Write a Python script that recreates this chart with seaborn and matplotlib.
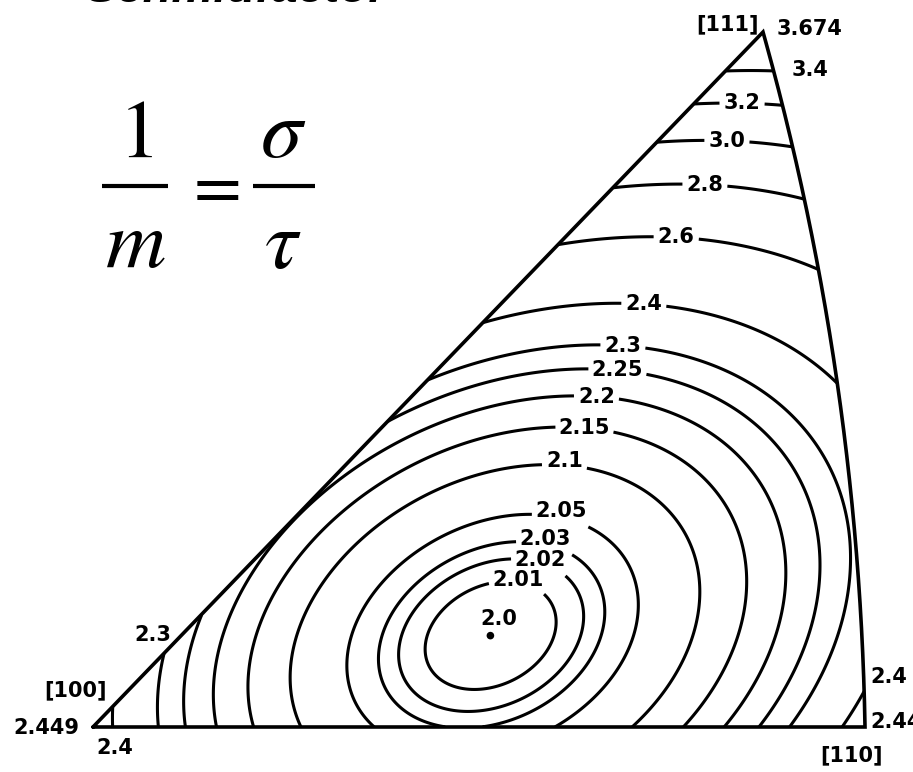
import numpy as np
import pandas as pd
import matplotlib
matplotlib.use("Agg")
import matplotlib.pyplot as plt
from matplotlib.path import Path
from matplotlib.patches import PathPatch
import seaborn as sns

# FCC {111}<110> slip systems: plane normals and slip directions
slip_normals = [(1, 1, 1), (1, 1, 1), (1, 1, 1),
                (-1, 1, 1), (-1, 1, 1), (-1, 1, 1),
                (1, -1, 1), (1, -1, 1), (1, -1, 1),
                (1, 1, -1), (1, 1, -1), (1, 1, -1)]
slip_directions = [(0, 1, -1), (1, 0, -1), (1, -1, 0),
                   (0, 1, -1), (1, 0, 1), (1, 1, 0),
                   (0, 1, 1), (1, 0, -1), (1, 1, 0),
                   (0, 1, 1), (1, 0, 1), (1, -1, 0)]

# iso-lines of 1/m drawn in the standard triangle
contour_levels = [2.01, 2.02, 2.03, 2.05, 2.1, 2.15, 2.2, 2.25, 2.3, 2.4,
                  2.6, 2.8, 3.0, 3.2, 3.4]
contour_labels = ["2.01", "2.02", "2.03", "2.05", "2.1", "2.15", "2.2", "2.25",
                  "2.3", "2.4", "2.6", "2.8", "3.0", "3.2", "3.4"]

# corner poles of the triangle and their 1/m values
corner_names = ["[100]", "[110]", "[111]"]
corner_vectors = [(1, 0, 0), (1, 1, 0), (1, 1, 1)]
corner_values = ["2.449", "2.449", "3.674"]
minimum_label = "2.0"


def to_px(X, Y):
    """Stereographic coordinates -> canvas pixels."""
    return 93 + 1863.8 * X - 33.3 * Y, 727 - 1898.7 * Y


def project(v):
    v = np.asarray(v, float)
    v = v / np.linalg.norm(v)
    return v[1] / (1 + v[0]), v[2] / (1 + v[0])


def inverse_schmid(X, Y):
    r2 = X ** 2 + Y ** 2
    t = np.stack([(1 - r2) / (1 + r2), 2 * X / (1 + r2), 2 * Y / (1 + r2)], axis=-1)
    n = np.array(slip_normals, float)
    n /= np.linalg.norm(n, axis=1, keepdims=True)
    d = np.array(slip_directions, float)
    d /= np.linalg.norm(d, axis=1, keepdims=True)
    m = np.abs(t @ n.T) * np.abs(t @ d.T)
    return 1.0 / m.max(axis=-1)


sns.set_theme(style="white")
plt.rcParams["mathtext.fontset"] = "stix"
plt.rcParams["text.color"] = "black"

fig = plt.figure(figsize=(9.13, 7.72), dpi=100)
ax = fig.add_axes([0, 0, 1, 1])
ax.set_xlim(0, 913)
ax.set_ylim(772, 0)
ax.axis("off")

# field on a grid in projection space
gx, gy = np.meshgrid(np.linspace(-0.03, 0.46, 800), np.linspace(-0.03, 0.40, 700))
field = inverse_schmid(gx, gy)
PX, PY = to_px(gx, gy)

# triangle outline: [100]-[110] line, [110]-[111] great circle, [111]-[100] line
c100, c110, c111 = [project(v) for v in corner_vectors]
phi_end = np.arctan2(c111[1], 1 + c111[0])
phi = np.linspace(0, phi_end, 200)
arc_x = -1 + np.sqrt(2) * np.cos(phi)
arc_y = np.sqrt(2) * np.sin(phi)
tri_x = np.concatenate([[c100[0]], arc_x, [c100[0]]])
tri_y = np.concatenate([[c100[1]], arc_y, [c100[1]]])
tpx, tpy = to_px(tri_x, tri_y)
clip = PathPatch(Path(np.column_stack([tpx, tpy])), transform=ax.transData,
                 facecolor="none", edgecolor="none")
ax.add_patch(clip)

cs = ax.contour(PX, PY, field, levels=contour_levels, colors="black",
                linewidths=2.2)

label_spots = [(517, 588), (540, 562), (546, 540), (562, 512), (564, 472),
               (584, 435), (596, 404), (617, 376), (623, 345), (644, 302),
               (676, 242), (705, 183), (727, 139), (742, 106)]
# small upward shift of the labels around the minimum
label_lift = [2, 2, 5, 7, 4, 0, 0, 0, 0, 0, 0, 0, 0, 0]
fmt = dict(zip(contour_levels, contour_labels))
texts = ax.clabel(cs, manual=label_spots, inline=True, inline_spacing=6,
                  fmt=fmt, fontsize=15)
for t, lift in zip(texts, label_lift):
    t.set_rotation(0)
    t.set_fontweight("bold")
    t.set_color("black")
    x, y = t.get_position()
    t.set_position((x, y - lift))
cs.set_clip_path(clip)

ax.plot(tpx, tpy, color="black", lw=2.6, solid_joinstyle="miter")

# position of the minimum, 1/m = 2
inside = (gy >= 0) & (gy <= gx) & ((gx + 1) ** 2 + gy ** 2 <= 2)
k = np.argmin(np.where(inside, field, np.inf))
mx, my = to_px(gx.flat[k], gy.flat[k])
sns.scatterplot(x=[mx], y=[my], ax=ax, color="black", s=30, edgecolor="none",
                legend=False)
ax.text(mx + 8, my - 17, minimum_label, fontsize=15, fontweight="bold",
        ha="center", va="center", color="black")

lab = dict(fontsize=15, fontweight="bold", color="black")
ax.text(76, 690, corner_names[0], ha="center", va="center", **lab)
ax.text(46, 728, corner_values[0], ha="center", va="center", **lab)
ax.text(851, 755, corner_names[1], ha="center", va="center", **lab)
ax.text(870, 722, corner_values[1], ha="left", va="center", **lab)
ax.text(728, 24, corner_names[2], ha="center", va="center", **lab)
ax.text(777, 29, corner_values[2], ha="left", va="center", **lab)
ax.text(810, 70, "3.4", ha="center", va="center", **lab)
ax.text(153, 635, "2.3", ha="center", va="center", **lab)
ax.text(115, 748, "2.4", ha="center", va="center", **lab)
ax.text(870, 677, "2.4", ha="left", va="center", **lab)

# 1/m = sigma/tau, set as a built-up fraction
eq = dict(fontsize=60, color="black", ha="center", va="baseline")
ax.text(135, 157, r"$1$", **eq)
ax.text(135, 268, r"$m$", **eq)
ax.text(283, 157, r"$\sigma$", **eq)
ax.text(283, 268, r"$\tau$", **eq)
ax.text(211, 187, r"$=$", fontsize=50, color="black", ha="center", va="center")
ax.plot([102, 168], [186, 186], color="black", lw=3.0, solid_capstyle="butt")
ax.plot([253, 315], [186, 186], color="black", lw=3.0, solid_capstyle="butt")

ax.text(85, 2, "Schmidfactor", fontsize=34, fontweight="bold", style="italic",
        family="Liberation Sans", ha="left", va="baseline", color="black")

fig.savefig("out.png", dpi=100)
